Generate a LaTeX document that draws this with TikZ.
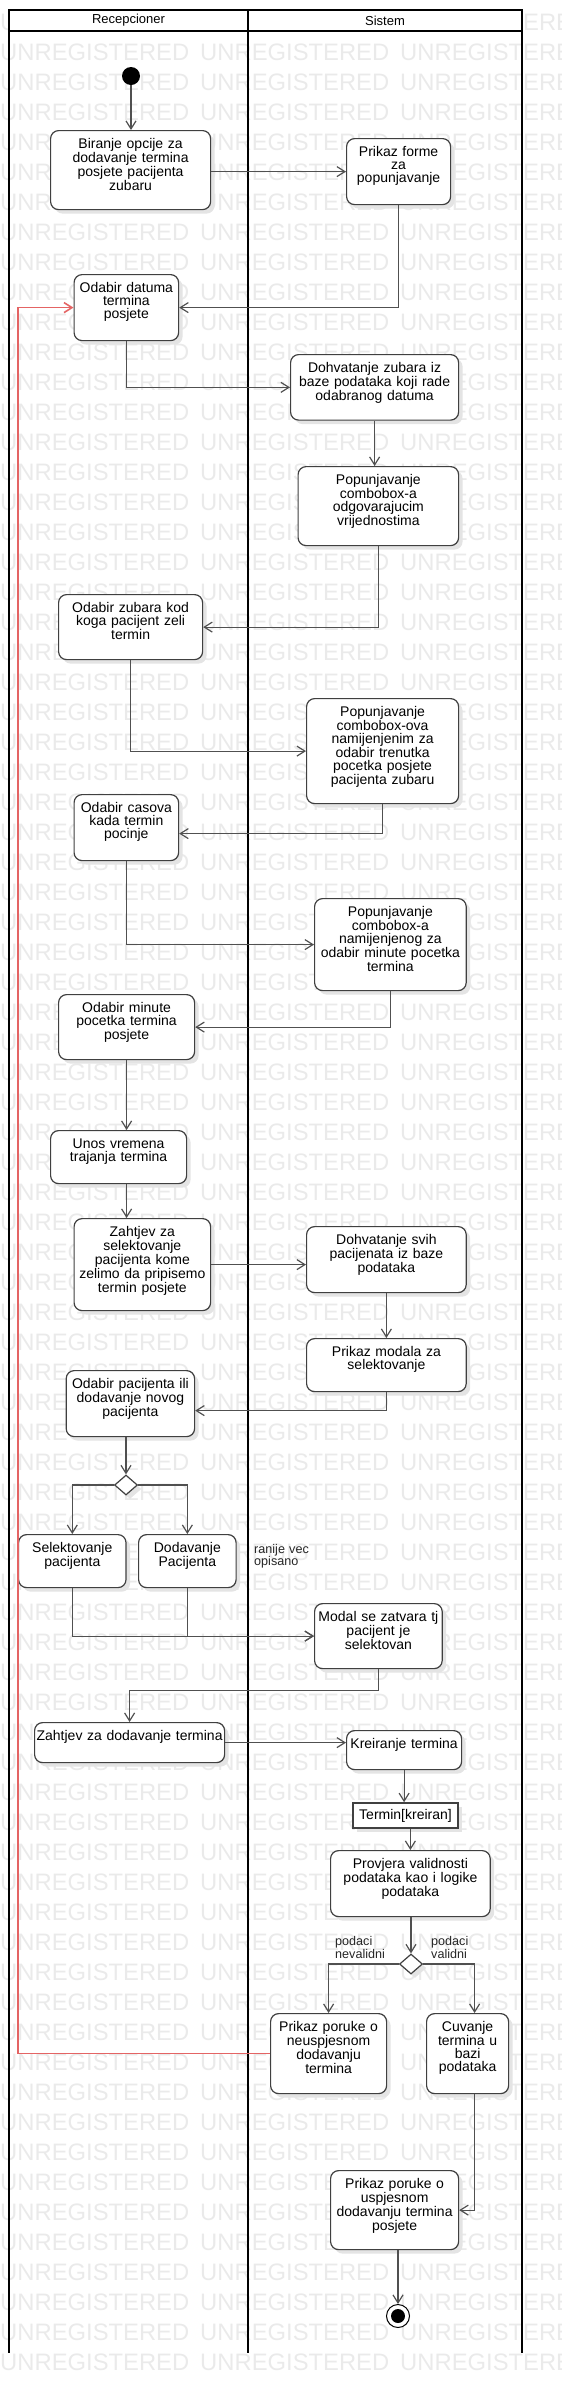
\documentclass[tikz,border=0pt]{standalone}
\usepackage{fontspec}
\setmainfont{Liberation Sans}
\usetikzlibrary{arrows.meta,shapes.geometric,shadows}

\definecolor{linegray}{RGB}{80,80,80}
\definecolor{boxgray}{RGB}{64,64,64}
\definecolor{flowred}{RGB}{228,100,100}
\definecolor{wmgray}{RGB}{234,234,234}
\definecolor{shadowgray}{RGB}{228,228,228}

\begin{document}
\begin{tikzpicture}[x=1pt,y=-1pt,
    every node/.style={inner sep=0pt},
    boxshadow/.style={drop shadow={shadow xshift=4pt,shadow yshift=-4pt,fill=shadowgray,opacity=1}},
    act/.style={draw=boxgray,fill=white,line width=1.2pt,rounded corners=8pt,
      anchor=north west,align=center,text height=17.5pt,
      font=\fontsize{14}{13}\selectfont,boxshadow},
    objnode/.style={rectangle,draw=boxgray,fill=white,line width=1.6pt,
      minimum width=105pt,minimum height=25pt,font=\fontsize{14}{13}\selectfont,boxshadow},
    decision/.style={diamond,draw=boxgray,fill=white,line width=1.2pt,
      minimum width=23pt,minimum height=20pt,boxshadow},
    startnode/.style={circle,fill=black,minimum size=18pt},
    endnode/.style={circle,draw=black,fill=white,line width=1pt,minimum size=23pt,
      path picture={\fill[black] (path picture bounding box.center) circle (7pt);}},
    flow/.style={draw=linegray,line width=1.2pt,-{Straight Barb[length=8pt,width=10pt]}},
    redflow/.style={flow,draw=flowred,line width=1.6pt},
    guard/.style={anchor=base west,text width=62pt,align=left,
      font=\fontsize{12.6}{12.5}\selectfont,text=black!85},
    hdr/.style={font=\fontsize{13}{13}\selectfont},
    wm/.style={anchor=base west,text=wmgray,font=\fontsize{23.8}{24}\selectfont},
    lane/.style={draw=black,line width=2pt}]

  \useasboundingbox (0,0) rectangle (562,2394);
  \clip (0,0) rectangle (562,2394);

  % watermark
  \foreach \r in {0,...,78}
    \foreach \c in {0,1,2}
      \node[wm] (wm-\r-\c) at (\c*200,30+\r*30) {UNREGISTERED};

  % swimlanes
  \filldraw[lane,fill=white] (9,10) rectangle (522,31);
  \draw[lane] (9,10) -- (9,2353);
  \draw[lane] (248,10) -- (248,2353);
  \draw[lane] (522,10) -- (522,2353);
  \node[hdr] (hdrRec) at (128.5,20.5) {Recepcioner};
  \node[hdr] (hdrSis) at (385,20.5) {Sistem};

  \coordinate (redx) at (18,0);

  \node[startnode] (start) at (131,76) {};
  \node[act,text width=160pt,text depth=61.5pt] (biranje) at (50,130) {Biranje opcije za\\dodavanje termina\\posjete pacijenta\\zubaru};
  \node[act,text width=104pt,text depth=48.5pt] (forma) at (346,138) {Prikaz forme\\za\\popunjavanje};
  \node[act,text width=104.5pt,text depth=48.5pt] (datum) at (73.5,274) {Odabir datuma\\termina\\posjete};
  \node[act,text width=168pt,text depth=48pt] (dohvZubara) at (290,354) {Dohvatanje zubara iz\\baze podataka koji rade\\odabranog datuma};
  \node[act,text width=160.5pt,text depth=61.5pt] (popCombo) at (297.5,466) {Popunjavanje\\combobox-a\\odgovarajucim\\vrijednostima};
  \node[act,text width=144pt,text depth=47.5pt] (zubar) at (58,594) {Odabir zubara kod\\koga pacijent zeli\\termin};
  \node[act,text width=152pt,text depth=87.5pt] (popCasova) at (306,698) {Popunjavanje\\combobox-ova\\namijenjenim za\\odabir trenutka\\pocetka posjete\\pacijenta zubaru};
  \node[act,text width=104.5pt,text depth=48.5pt] (casovi) at (73.5,794) {Odabir casova\\kada termin\\pocinje};
  \node[act,text width=151.6pt,text depth=74.5pt] (popMinute) at (314,898) {Popunjavanje\\combobox-a\\namijenjenog za\\odabir minute pocetka\\termina};
  \node[act,text width=136pt,text depth=47.5pt] (minute) at (58,994) {Odabir minute\\pocetka termina\\posjete};
  \node[act,text width=136pt,text depth=35.5pt] (unos) at (50,1130) {Unos vremena\\trajanja termina};
  \node[act,text width=136.5pt,text depth=74.5pt] (zahtjevSel) at (73.5,1218) {Zahtjev za\\selektovanje\\pacijenta kome\\zelimo da pripisemo\\termin posjete};
  \node[act,text width=159.6pt,text depth=48.5pt] (dohvPac) at (306,1226) {Dohvatanje svih\\pacijenata iz baze\\podataka};
  \node[act,text width=159.6pt,text depth=35.5pt] (modalPrikaz) at (306,1338) {Prikaz modala za\\selektovanje};
  \node[act,text width=128.4pt,text depth=48.5pt] (odabirPac) at (65.6,1370) {Odabir pacijenta ili\\dodavanje novog\\pacijenta};
  \node[decision] (dec1) at (126,1485) {};
  \node[act,text width=107.4pt,text depth=35.5pt] (selPac) at (18,1534) {Selektovanje\\pacijenta};
  \node[act,text width=97.5pt,text depth=35.5pt] (dodPac) at (138,1534) {Dodavanje\\Pacijenta};
  \node[guard] (note) at (254,1553) {ranije vec\\opisano};
  \node[act,text width=127.6pt,text depth=47.5pt] (modal) at (314,1603) {Modal se zatvara tj\\pacijent je\\selektovan};
  \node[act,text width=190pt,text depth=22.5pt] (zahtjevDod) at (34,1722) {Zahtjev za dodavanje termina};
  \node[act,text width=115pt,text depth=21.5pt] (kreiranje) at (346,1730) {Kreiranje termina};
  \node[objnode] (termin) at (405.5,1815.5) {Termin[kreiran]};
  \node[act,text width=159.6pt,text depth=48.5pt] (provjera) at (330,1850) {Provjera validnosti\\podataka kao i logike\\podataka};
  \node[decision] (dec2) at (411,1964) {};
  \node[guard] (gNeval) at (335,1945.5) {podaci\\nevalidni};
  \node[guard] (gVal) at (431,1945.5) {podaci\\validni};
  \node[act,text width=116pt,text depth=62.5pt] (neusp) at (270,2013) {Prikaz poruke o\\neuspjesnom\\dodavanju\\termina};
  \node[act,text width=82pt,text depth=62.5pt] (cuvanje) at (426,2013) {Cuvanje\\termina u\\bazi\\podataka};
  \node[act,text width=128pt,text depth=61.5pt] (usp) at (330,2170) {Prikaz poruke o\\uspjesnom\\dodavanju termina\\posjete};
  \node[endnode] (finish) at (398,2316) {};

  \draw[flow] (start) -- (start |- biranje.north);
  \draw[flow] (biranje.east |- forma.west) -- (forma.west);
  \draw[flow] (forma.south) |- (datum.east);
  \draw[flow] (datum.south) |- (dohvZubara.west);
  \draw[flow] (dohvZubara.south) -- (dohvZubara.south |- popCombo.north);
  \draw[flow] (popCombo.south) |- (zubar.east);
  \draw[flow] (zubar.south) |- (popCasova.west);
  \draw[flow] (popCasova.south) |- ([yshift=-6pt]casovi.east);
  \draw[flow] (casovi.south) |- (popMinute.west);
  \draw[flow] (popMinute.south) |- (minute.east);
  \draw[flow] (minute.south) -- (minute.south |- unos.north);
  \draw[flow] (unos.south -| minute.south) -- (zahtjevSel.north -| minute.south);
  \draw[flow] (zahtjevSel.east) -- (zahtjevSel.east -| dohvPac.west);
  \draw[flow] (dohvPac.south) -- (modalPrikaz.north);
  \draw[flow] (modalPrikaz.south) |- ([yshift=-7pt]odabirPac.east);
  \draw[flow] (dec1.north |- odabirPac.south) -- (dec1.north);
  \draw[flow] (dec1.west) -| (selPac.north);
  \draw[flow] (dec1.east) -| (dodPac.north);
  \draw[flow] (selPac.south) |- (modal.west);
  \draw[flow] (dodPac.south) |- (modal.west);
  \draw[flow] (modal.south) -- ++(0,21) -| (zahtjevDod.north);
  \draw[flow] (zahtjevDod.east) -- (zahtjevDod.east -| kreiranje.west);
  \draw[flow] (kreiranje.south) -- (kreiranje.south |- termin.north);
  \draw[flow] (provjera.north |- termin.south) -- (provjera.north);
  \draw[flow] (dec2.north |- provjera.south) -- (dec2.north);
  \draw[flow] (dec2.west) -| (neusp.north);
  \draw[flow] (dec2.east) -| ([xshift=7pt]cuvanje.north);
  \draw[flow] ([xshift=7pt]cuvanje.south) |- (usp.east);
  \draw[flow] (finish.north |- usp.south) -- (finish.north);
  \draw[redflow] (neusp.west) -- (neusp.west -| redx) |- (datum.west);
\end{tikzpicture}
\end{document}
